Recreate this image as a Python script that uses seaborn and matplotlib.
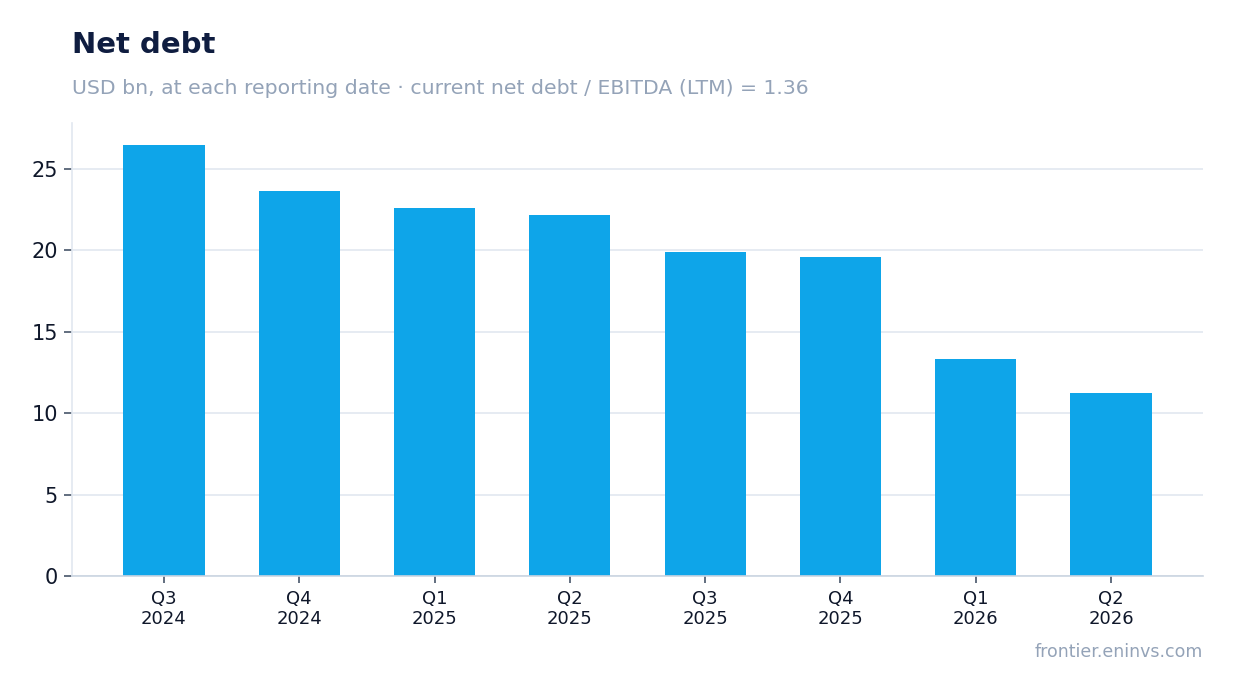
import pandas as pd
import matplotlib
matplotlib.use("Agg")
import matplotlib.pyplot as plt
import seaborn as sns

quarters = ["Q3\n2024", "Q4\n2024", "Q1\n2025", "Q2\n2025",
            "Q3\n2025", "Q4\n2025", "Q1\n2026", "Q2\n2026"]
net_debt = [26.47, 23.65, 22.60, 22.17, 19.90, 19.59, 13.33, 11.24]

df = pd.DataFrame({"quarter": quarters, "net_debt": net_debt})

sns.set_theme(style="white")
plt.rcParams["font.family"] = ["DejaVu Sans"]

fig = plt.figure(figsize=(12.34, 6.93), dpi=100)
ax = fig.add_axes([72 / 1234, 1 - 576 / 693, (1203 - 72) / 1234, (576 - 123) / 693])

sns.barplot(data=df, x="quarter", y="net_debt", color="#0ea5e9",
            saturation=1, width=0.6, linewidth=0, ax=ax)

ax.set_ylim(0, max(net_debt) * 1.05)
ax.set_xlim(-0.68, len(quarters) - 0.32)
ax.set_yticks([0, 5, 10, 15, 20, 25])
ax.yaxis.grid(True, color="#e2e8f0", linewidth=1.2)
ax.set_axisbelow(True)
ax.set_xlabel("")
ax.set_ylabel("")

for s in ["top", "right"]:
    ax.spines[s].set_visible(False)
ax.spines["left"].set_color("#e2e8f0")
ax.spines["left"].set_linewidth(1.2)
ax.spines["bottom"].set_color("#cbd5e1")
ax.spines["bottom"].set_linewidth(1.2)

ax.tick_params(axis="y", labelsize=15, colors="#0f172a", length=6, width=1.2,
               color="#475569", pad=4)
ax.tick_params(axis="x", labelsize=13, colors="#0f172a", length=5, width=1.2,
               color="#475569", pad=5)
ax.tick_params(axis="y", left=True)
ax.tick_params(axis="x", bottom=True)
for lbl in ax.get_xticklabels():
    lbl.set_linespacing(1.15)

fig.text(72 / 1234, 1 - 45 / 693, "Net debt", fontsize=21, fontweight="bold",
         color="#0f1d40", va="center", ha="left")
fig.text(72 / 1234, 1 - 88 / 693,
         "USD bn, at each reporting date · current net debt / EBITDA (LTM) = 1.36",
         fontsize=14.7, color="#94a3b8", va="center", ha="left")
fig.text(1203 / 1234, 1 - 652 / 693, "frontier.eninvs.com", fontsize=12.5,
         color="#94a3b8", va="center", ha="right")

fig.savefig("out.png", dpi=100, facecolor="white")
